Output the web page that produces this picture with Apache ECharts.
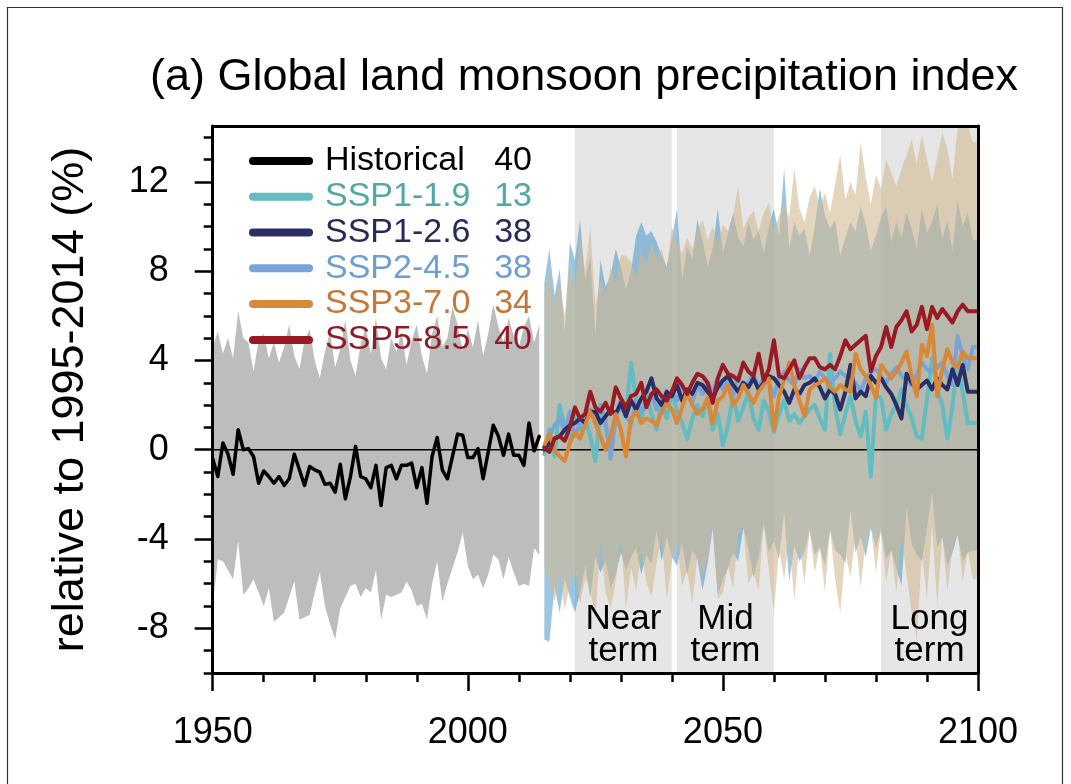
<!DOCTYPE html>
<html>
<head>
<meta charset="utf-8">
<script src="https://cdn.jsdelivr.net/npm/echarts@6/dist/echarts.min.js"></script>
<style>
  html, body { margin: 0; padding: 0; background: #fff; }
  #chart { width: 1071px; height: 784px; }
</style>
</head>
<body>
<div id="chart"></div>
<script>
// ---- Data -----------------------------------------------------------------
const HIST_START = 1950;   // historical series: 1950-2014
const FUT_START = 2015;    // scenario series: 2015-2100

// Historical multi-model mean (%)
const histMean = [
  -0.4, -1.2, 0.3, -0.2, -1.1, 0.9, 0.0, 0.05, -0.3, -1.5,
  -0.95, -1.2, -1.5, -1.2, -1.6, -1.3, -0.2, -0.9, -1.6, -0.75,
  -0.9, -1.0, -1.55, -1.5, -1.9, -0.65, -2.2, -1.2, 0.15, -1.2,
  -1.3, -1.7, -0.7, -2.5, -0.8, -0.7, -1.3, -0.7, -0.7, -0.6,
  -1.7, -0.8, -2.4, -0.3, 0.55, -0.9, -1.3, -0.3, 0.7, 0.65,
  -0.35, -0.35, 0.05, -1.3, -0.1, 1.1, 0.6, -0.25, 0.7, -0.25,
  -0.25, -0.7, 1.2, -0.05, 0.6
];
// Historical model spread (upper / lower bound)
const histUpper = [
  4.6, 5.3, 4.3, 5.0, 4.1, 6.2, 5.0, 4.8, 3.5, 4.9,
  5.2, 4.1, 4.8, 3.9, 4.6, 5.6, 4.2, 3.6, 4.9, 5.4,
  4.0, 3.2, 4.4, 5.3, 3.7, 4.5, 5.8, 4.0, 3.3, 4.7,
  5.5, 4.3, 5.9, 4.1, 3.6, 5.0, 4.4, 5.3, 3.8, 4.9,
  5.6, 4.2, 3.4, 5.2, 6.0, 4.6, 5.0, 6.4, 5.6, 4.4,
  5.4, 4.6, 5.8, 4.2, 5.2, 6.5, 5.5, 4.8, 5.9, 5.1,
  4.6, 5.5, 6.0, 4.8, 5.6
];
const histLower = [
  -7.0, -4.9, -5.0, -5.4, -5.8, -4.1, -6.5, -6.2, -5.8, -6.4,
  -7.0, -6.2, -7.7, -7.5, -7.3, -6.6, -5.9, -7.6, -7.5, -7.4,
  -6.4, -5.5, -7.0, -7.8, -8.5, -7.1, -6.6, -6.1, -6.0, -6.6,
  -6.2, -6.4, -5.4, -7.6, -6.5, -6.6, -6.5, -6.4, -5.9, -6.3,
  -7.0, -6.9, -7.6, -6.0, -5.0, -6.8, -6.0, -5.3, -4.6, -3.7,
  -5.2, -5.8, -5.6, -6.2, -5.6, -4.7, -4.9, -5.8, -4.8, -5.5,
  -6.1, -6.0, -6.1, -4.4, -4.7
];

// Scenario multi-model means (%), 2015-2100
const ssp119 = [
  -0.2, 0.9, -0.3, 2.0, 1.0,
  0.4, 1.8, 0.9, 1.4, 0.6, -0.5, 1.7, 1.1, -0.1, 1.4,
  2.3, 1.5, 3.9, 2.2, 1.3, 2.5, 1.6, 0.9, 2.1, 1.4,
  2.6, 1.7, 1.2, 0.5, 1.4, 2.0, 1.5, 2.3, 0.9, 1.6,
  0.2, 1.1, 2.4, 1.3, 1.9, 2.6, 1.4, 0.9, 2.2, 1.7,
  0.8, 1.6, 2.2, 1.3, 1.6, 1.2, 1.5, 1.8, 2.0, 1.4,
  0.9, 4.3, 1.9, 0.7, 1.6, 2.4, 1.3, 0.6, 1.7, -1.2,
  2.5, 2.3, 0.9, 1.6, 2.0, 2.7, 2.0, 1.4, 0.6, 0.5,
  2.3, 4.1, 2.7, 2.0, 0.5, 2.0, 3.8, 2.6, 1.2, 1.2,
  1.2
];
const ssp126 = [
  0.0, 0.3, 0.5, 0.6, 0.9,
  1.1, 1.2, 1.4, 1.2, 1.7, 1.7, 1.2, 1.5, 1.8, 1.6,
  2.1, 1.5, 2.2, 1.8, 2.3, 2.6, 3.2, 2.3, 2.0, 2.6,
  2.4, 2.9, 2.2, 2.7, 2.5, 3.0, 2.9, 2.6, 2.3, 2.8,
  3.1, 3.3, 2.9, 2.6, 3.0, 2.8, 3.2, 2.7, 3.0, 3.3,
  3.2, 2.9, 2.6, 2.1, 2.7, 2.5, 2.9, 3.0, 3.2, 2.8,
  2.3, 2.7, 2.5, 1.8, 2.6, 3.8, 2.3, 2.6, 2.4, 3.3,
  3.0, 3.2, 2.8, 2.5, 2.0, 1.4, 3.4, 3.0, 2.7, 2.9,
  3.1, 2.7, 3.2, 2.9, 2.7, 3.6, 2.9, 3.8, 2.6, 2.6,
  2.6
];
const ssp245 = [
  0.1, 0.6, 1.1, 1.4, 0.8,
  1.7, 0.6, 1.2, 1.5, 1.8, 1.4, 2.0, 1.3, -0.4, 1.6,
  1.9, 1.5, 1.2, 2.2, 1.7, 2.0, 2.5, 1.8, 2.3, 2.0,
  2.6, 2.2, 2.8, 2.4, 2.1, 2.9, 2.5, 3.0, 2.6, 3.2,
  2.7, 3.1, 2.4, 3.3, 2.8, 3.0, 3.4, 2.7, 3.3, 3.0,
  2.4, 3.2, 3.5, 3.1, 2.9, 3.6, 3.2, 3.3, 3.0, 3.5,
  3.2, 3.0, 3.2, 3.5, 3.3, 3.2, 3.0, 2.6, 3.2, 3.5,
  3.6, 3.3, 3.0, 3.4, 3.7, 3.3, 3.1, 2.9, 3.4, 3.9,
  3.6, 3.5, 3.7, 3.9, 3.3, 2.9, 5.1, 4.2, 3.6, 4.6,
  4.6
];
const ssp370 = [
  0.2, 0.7, 0.0, -0.3, -0.5,
  0.3, 0.8, 0.5, 1.1, 1.7, 1.2, 0.6, 0.0, 0.6, 1.6,
  0.9, -0.3, 1.4, 1.7, 1.2, 1.4, 1.3, 1.1, 1.7, 2.1,
  1.8, 1.2, 1.9, 2.6, 2.0, 1.6, 1.8, 2.3, 1.2, 2.2,
  2.4, 2.9, 2.0, 2.3, 2.9, 2.5, 2.1, 2.6, 2.9, 3.2,
  0.9, 2.4, 3.1, 3.9, 2.9, 2.2, 1.5, 2.7, 2.9, 3.0,
  3.2, 2.8, 2.6, 2.9, 2.7, 2.6, 4.3, 3.6, 3.3, 2.9,
  2.3, 3.8, 3.5, 3.2, 3.5, 3.9, 4.4, 3.3, 2.4, 4.7,
  4.2, 5.6, 2.4, 3.6, 4.5, 3.9, 3.7, 4.4, 4.1, 4.1,
  4.1
];
const ssp585 = [
  0.1, -0.1, 0.5, 0.6, 0.4,
  1.0, 1.9, 1.4, 1.6, 2.6, 1.9, 1.7, 2.1, 1.6, 2.8,
  2.3, 1.9, 2.4, 2.5, 3.0, 1.9, 2.5, 2.7, 2.4, 2.2,
  2.6, 3.2, 2.9, 2.5, 3.0, 3.4, 3.3, 3.0, 2.1, 3.2,
  3.8, 3.4, 3.3, 3.1, 3.9, 3.5, 3.3, 4.3, 3.1, 3.6,
  4.9, 3.3, 3.2, 3.6, 4.0, 3.2, 3.7, 4.1, 4.1, 3.7,
  3.6, 3.8, 3.6, 4.2, 4.9, 4.5, 4.7, 4.9, 5.1, 3.5,
  4.2, 4.6, 5.5, 4.6, 5.5, 5.8, 6.2, 5.3, 5.6, 6.4,
  5.4, 6.4, 5.9, 6.3, 6.0, 5.7, 6.2, 6.5, 6.2, 6.2,
  6.2
];

// Model spread for SSP1-2.6 (blue shading) and SSP3-7.0 (tan shading)
const ssp126Upper = [
  7.5, 9.0, 6.9, 8.1, 5.3,
  9.3, 8.5, 10.3, 7.6, 8.6, 5.1, 8.5, 7.3, 7.8, 9.0,
  8.2, 7.2, 8.0, 9.6, 10.2, 9.6, 9.8, 9.3, 8.7, 8.2,
  9.4, 10.8, 7.6, 9.1, 8.5, 10.3, 9.4, 8.2, 9.0, 10.8,
  8.8, 9.7, 10.6, 9.5, 9.1, 10.2, 9.4, 9.8, 8.8, 10.0,
  10.8, 9.6, 12.6, 9.0, 10.2, 9.6, 9.9, 8.7, 10.0, 11.7,
  10.5, 9.9, 10.3, 8.7, 9.5, 10.2, 9.8, 10.9, 10.1, 8.9,
  9.6, 10.4, 10.9, 9.3, 10.2, 9.5, 10.6, 9.9, 9.0, 10.8,
  9.7, 10.2, 11.0, 9.4, 10.3, 8.9, 11.2, 10.0, 10.6, 9.4,
  9.4
];
const ssp126Lower = [
  -8.5, -8.6, -6.1, -7.3, -5.8,
  -6.6, -7.3, -6.4, -5.2, -6.6, -4.8, -5.5, -5.0, -6.2, -5.6,
  -4.6, -5.4, -4.8, -4.4, -5.6, -4.7, -5.1, -3.6, -5.0, -3.9,
  -4.8, -5.2, -4.2, -5.6, -4.5, -4.9, -6.3, -5.1, -3.5, -6.5,
  -5.8, -5.3, -4.6, -5.0, -3.5, -4.4, -5.7, -4.8, -3.3, -4.6,
  -4.1, -4.9, -2.8, -5.9, -4.3, -5.0, -4.6, -3.6, -4.7, -4.4,
  -5.2, -3.6, -4.5, -4.7, -5.1, -2.7, -4.6, -3.9, -4.8, -3.5,
  -4.4, -3.6, -4.9, -4.5, -5.3, -6.1, -2.6, -4.2, -4.7, -5.0,
  -3.5, -1.9, -4.4, -3.9, -5.2, -4.6, -3.8, -5.0, -4.6, -4.5,
  -4.5
];
const ssp370Upper = [
  7.0, 8.0, 6.5, 7.6, 6.0,
  8.4, 7.2, 9.6, 8.0, 10.0, 6.5, 7.6, 7.0, 8.2, 7.5,
  8.7, 8.7, 8.4, 7.8, 8.9, 8.3, 9.2, 8.6, 9.0, 8.1,
  10.0, 9.3, 8.8, 9.5, 9.0, 9.8, 10.3, 9.4, 10.0, 9.2,
  10.1, 9.8, 10.5, 11.8, 9.9, 10.4, 10.7, 9.8, 10.6, 11.1,
  9.8, 10.5, 11.0, 10.4, 12.6, 10.8, 10.2, 11.3, 11.8, 10.9,
  11.5, 10.6, 11.9, 13.2, 11.2, 12.0, 11.4, 13.8, 12.2, 11.0,
  12.3, 11.7, 13.0, 12.4, 11.8, 12.6, 13.2, 13.9, 12.8, 14.1,
  13.0, 12.0, 13.1, 14.2, 13.5, 12.1, 14.4, 14.5, 14.5, 13.8,
  13.8
];
const ssp370Lower = [
  -5.2, -6.0, -6.8, -5.5, -7.2,
  -6.0, -5.4, -6.9, -5.8, -6.2, -7.6, -4.3, -6.4, -7.1, -5.9,
  -4.0, -7.1, -5.3, -6.3, -4.6, -5.9, -6.6, -5.1, -3.9, -6.7,
  -5.0, -4.1, -6.1, -5.4, -6.9, -4.8, -5.7, -4.9, -3.4, -6.7,
  -6.4, -5.2, -6.2, -3.8, -3.4, -6.0, -5.5, -6.3, -3.3, -5.4,
  -7.3, -4.4, -5.8, -4.0, -6.8, -4.2, -6.0, -3.6, -5.5, -4.3,
  -6.4, -3.6, -5.8, -7.3, -4.6, -5.7, -3.9, -6.2, -4.1, -3.4,
  -5.5, -3.6, -5.9, -4.5, -6.4, -3.9, -5.6, -7.3, -8.5, -4.6,
  -6.7, -3.4, -7.0, -3.9, -6.3, -4.4, -3.7, -5.9, -4.5, -5.8,
  -5.8
];

// Legend entries: series name and number of models
const seriesNames = ['Historical', 'SSP1-1.9', 'SSP1-2.6', 'SSP2-4.5', 'SSP3-7.0', 'SSP5-8.5'];
const modelCounts = [40, 13, 38, 38, 34, 40];

// Assessment periods
const periodStart = [2021, 2041, 2081];
const periodEnd = [2040, 2060, 2100];
const periodNames = ['Near\nterm', 'Mid\nterm', 'Long\nterm'];

// Axis settings
const X_MIN = 1950, X_MAX = 2100;
const Y_MIN = -10, Y_MAX = 14.5;
const xLabelTicks = [1950, 2000, 2050, 2100];
const yLabelTicks = [-8, -4, 0, 4, 8, 12];

// ---- Styling --------------------------------------------------------------
const FONT = '"Liberation Sans", Arial, Helvetica, sans-serif';
const lineColors = ['#000000', '#62bcc1', '#2a2e66', '#78a4da', '#da8838', '#9a1a24'];
const textColors = ['#000000', '#52a7a8', '#262b5c', '#6f9ed3', '#c47838', '#8e1c26'];

// ---- Helpers --------------------------------------------------------------
const toXY = (start, arr) => arr.map((v, i) => [start + i, v]);

// Spread between a lower and an upper bound, drawn as one polygon in data space.
function bandSeries(name, start, lower, upper, color, opacity, z) {
  return {
    type: 'custom', name: name, silent: true, z: z, clip: true,
    data: lower.map((lo, i) => [start + i, lo, upper[i]]),
    encode: { x: 0, y: [1, 2] },
    renderItem: (params, api) => {
      if (params.dataIndex !== 0) return null;
      const top = upper.map((u, i) => api.coord([start + i, u]));
      const bottom = lower.map((l, i) => api.coord([start + i, l])).reverse();
      return {
        type: 'polygon',
        shape: { points: top.concat(bottom) },
        style: { fill: color, opacity: opacity }
      };
    }
  };
}

function meanLine(name, start, values, color, width, z) {
  return {
    type: 'line', name: name, data: toXY(start, values), symbol: 'none', z: z,
    color: color,
    lineStyle: { color: color, width: width, join: 'round', cap: 'round' },
    emphasis: { disabled: true }
  };
}

// Shaded assessment periods: filled to the axis bottom, broken between periods.
const periodData = [];
periodStart.forEach((s, i) => {
  periodData.push([s, Y_MAX], [periodEnd[i], Y_MAX]);
  if (i < periodStart.length - 1) periodData.push([periodEnd[i], null]);
});

const yMinorTicks = [];
for (let v = Y_MIN; v <= Math.floor(Y_MAX); v++) yMinorTicks.push(v);

// ---- Chart ----------------------------------------------------------------
const chart = echarts.init(document.getElementById('chart'), null, { renderer: 'canvas' });

const option = {
  animation: false,
  backgroundColor: '#ffffff',
  textStyle: { fontFamily: FONT },
  title: {
    text: '(a) Global land monsoon precipitation index',
    left: 150, top: 55, padding: 0,
    textStyle: { fontFamily: FONT, fontSize: 45, fontWeight: 'normal', color: '#000' }
  },
  grid: {
    left: 212.7, right: 93, top: 126, bottom: 111,
    outerBoundsMode: 'none', containLabel: false
  },
  legend: {
    orient: 'vertical', left: 249, top: 143, padding: 0,
    itemWidth: 64, itemHeight: 8, itemGap: 0,
    icon: 'path://M4,0L60,0A4,4,0,0,1,60,8L4,8A4,4,0,0,1,4,0Z',
    selectedMode: false,
    data: seriesNames.map((n, i) => ({
      name: n,
      itemStyle: { color: lineColors[i] },
      textStyle: { color: textColors[i] }
    })),
    formatter: (name) => '{n|' + name + '}{c|' + modelCounts[seriesNames.indexOf(name)] + '}',
    textStyle: {
      fontFamily: FONT, fontSize: 34, lineHeight: 35.8,
      rich: {
        n: { fontFamily: FONT, fontSize: 34, lineHeight: 35.8, width: 160, padding: [0, 0, 0, 7] },
        c: { fontFamily: FONT, fontSize: 34, lineHeight: 35.8, width: 47, align: 'right' }
      }
    }
  },
  xAxis: [
    {
      type: 'value', min: X_MIN, max: X_MAX, interval: 50, position: 'bottom', z: 10,
      axisLine: { show: true, onZero: false, lineStyle: { color: '#000', width: 3 } },
      axisTick: { show: true, inside: false, length: 18, lineStyle: { color: '#000', width: 2.5 } },
      minorTick: { show: true, splitNumber: 5, length: 9, lineStyle: { color: '#000', width: 2.5 } },
      axisLabel: {
        customValues: xLabelTicks, margin: 42, fontSize: 36, color: '#000', fontFamily: FONT,
        formatter: (v) => String(v)
      },
      splitLine: { show: false }, minorSplitLine: { show: false }
    },
    {
      type: 'value', min: X_MIN, max: X_MAX, position: 'top', z: 10,
      axisLine: { show: true, onZero: false, lineStyle: { color: '#000', width: 3 } },
      axisTick: { show: false }, axisLabel: { show: false }, splitLine: { show: false }
    }
  ],
  yAxis: [
    {
      type: 'value', min: Y_MIN, max: Y_MAX, position: 'left', z: 10,
      name: 'relative to 1995-2014 (%)', nameLocation: 'middle', nameRotate: 90,
      nameGap: 120, nameMoveOverlap: false,
      nameTextStyle: { fontFamily: FONT, fontSize: 45, color: '#000' },
      axisLine: { show: true, onZero: false, lineStyle: { color: '#000', width: 3 } },
      axisTick: { show: true, customValues: yLabelTicks, length: 18, lineStyle: { color: '#000', width: 2.5 } },
      axisLabel: { customValues: yLabelTicks, margin: 44, fontSize: 36, color: '#000', fontFamily: FONT },
      splitLine: { show: false }
    },
    {
      type: 'value', min: Y_MIN, max: Y_MAX, position: 'left', z: 10,
      axisLine: { show: false, onZero: false },
      axisTick: { show: true, customValues: yMinorTicks, length: 9, lineStyle: { color: '#000', width: 2.5 } },
      axisLabel: { show: false }, splitLine: { show: false }
    },
    {
      type: 'value', min: Y_MIN, max: Y_MAX, position: 'right', z: 10,
      axisLine: { show: true, onZero: false, lineStyle: { color: '#000', width: 3 } },
      axisTick: { show: false }, axisLabel: { show: false }, splitLine: { show: false }
    }
  ],
  graphic: [
    {
      type: 'rect', silent: true, z: -10,
      shape: { x: 7.5, y: 7.5, width: 1055, height: 800 },
      style: { fill: null, stroke: '#333', lineWidth: 1.2 }
    }
  ],
  series: [
    // assessment-period shading
    {
      type: 'line', name: 'periods', data: periodData, symbol: 'none', silent: true, z: 1,
      connectNulls: false,
      lineStyle: { width: 0, opacity: 0 },
      areaStyle: { color: '#e6e6e6', opacity: 1, origin: 'start' },
      emphasis: { disabled: true }
    },
    // model spreads
    bandSeries('hist-range', HIST_START, histLower, histUpper, '#bdbdbd', 1, 2),
    bandSeries('ssp126-range', FUT_START, ssp126Lower, ssp126Upper, 'rgb(55,141,195)', 0.5, 2),
    bandSeries('ssp370-range', FUT_START, ssp370Lower, ssp370Upper, 'rgb(210,185,147)', 0.6, 2),
    // zero reference line
    {
      type: 'line', name: 'zero', data: [[X_MIN, 0], [X_MAX, 0]], symbol: 'none', silent: true, z: 3,
      lineStyle: { color: '#000', width: 1.5 }, emphasis: { disabled: true }
    },
    // multi-model means
    meanLine('SSP1-1.9', FUT_START, ssp119, lineColors[1], 4, 4),
    meanLine('SSP2-4.5', FUT_START, ssp245, lineColors[3], 4, 4),
    meanLine('SSP1-2.6', FUT_START, ssp126, lineColors[2], 4, 4),
    meanLine('SSP3-7.0', FUT_START, ssp370, lineColors[4], 4, 4),
    meanLine('SSP5-8.5', FUT_START, ssp585, lineColors[5], 4, 4),
    meanLine('Historical', HIST_START, histMean, lineColors[0], 3.5, 4),
    // period labels, anchored to the bottom of each period
    {
      type: 'scatter', name: 'periodLabels', symbolSize: 0, silent: true, z: 6,
      itemStyle: { opacity: 1 },
      data: periodNames.map((n, i) => [(periodStart[i] + periodEnd[i]) / 2, Y_MIN]),
      label: {
        show: true, position: 'top', distance: 6, opacity: 1,
        formatter: (p) => periodNames[p.dataIndex],
        fontFamily: FONT, fontSize: 35, lineHeight: 32, color: '#000', align: 'center'
      },
      emphasis: { disabled: true }
    }
  ]
};

chart.setOption(option);
</script>
</body>
</html>
